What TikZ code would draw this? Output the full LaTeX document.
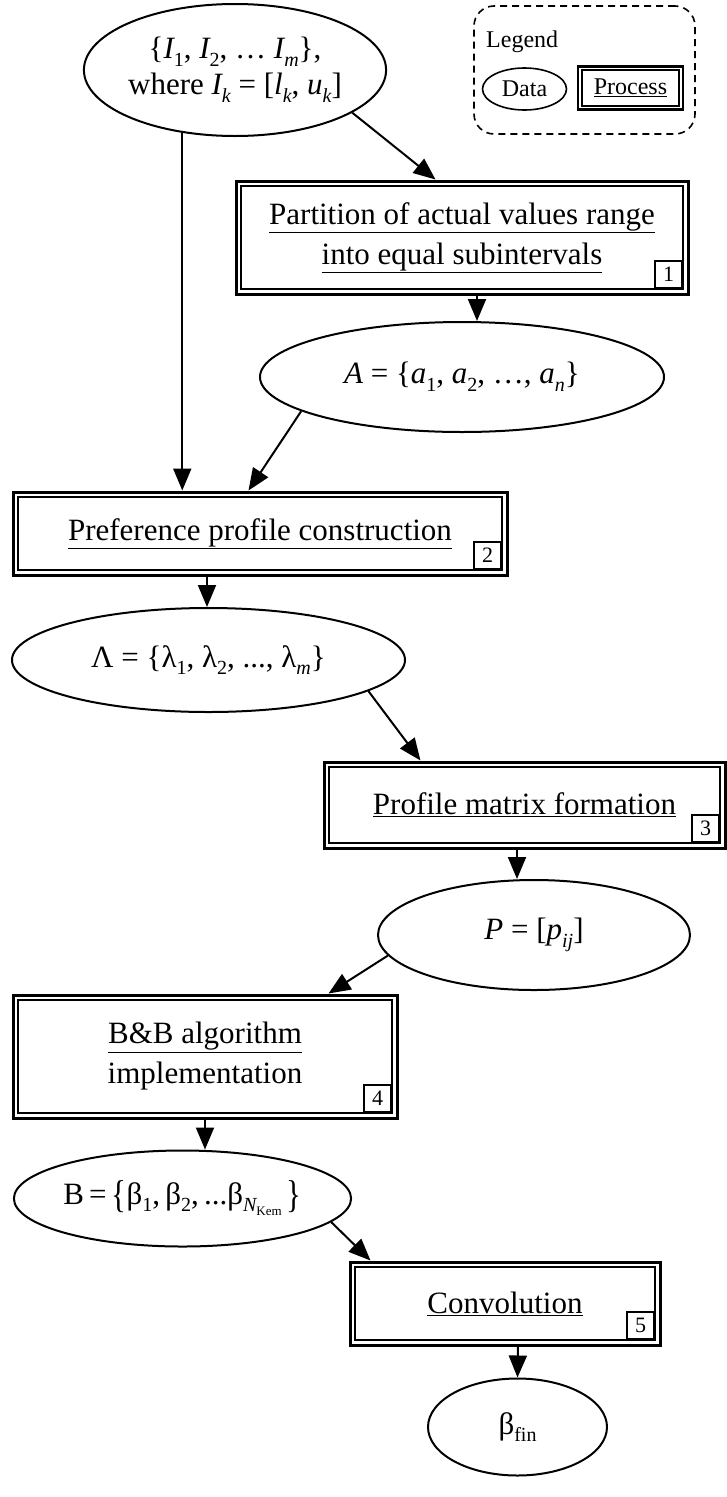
\documentclass[tikz,border=0pt]{standalone}
\usepackage{fontspec}
\setmainfont{Liberation Serif}
\usetikzlibrary{shapes.geometric,arrows.meta,calc}
\newcommand\msz{\fontsize{31}{40}\selectfont}
\newcommand\lsz{\fontsize{24}{28}\selectfont}
\newcommand\sbs[1]{\raisebox{-0.25em}{\fontsize{20}{20}\selectfont #1}}
\newcommand\ssbs[1]{\raisebox{-0.2em}{\fontsize{13}{13}\selectfont #1}}
\newcommand\tallbr[1]{\raisebox{-0.12em}{\scalebox{1}[1.25]{#1}}}
\newcommand\procin[2]{%
  \draw[line width=2pt] ([shift={(6.5pt,-6.5pt)}]#1.north west) rectangle ([shift={(-6.5pt,6.5pt)}]#1.south east);
  \node[numbox, anchor=south east] (#1num) at ([shift={(-6.5pt,6.5pt)}]#1.south east) {#2};
}
\begin{document}
\begin{tikzpicture}[x=1pt,y=-1pt,
  proc/.style={draw, line width=3pt, rectangle, inner sep=0pt, align=center, font=\msz},
  data/.style={draw, ellipse, line width=2pt, inner sep=0pt, align=center, font=\msz},
  arr/.style={line width=2pt, -{Triangle[length=22pt,width=18pt]}},
  numbox/.style={draw, line width=1.8pt, minimum size=27pt, inner sep=0pt, font=\fontsize{22}{22}\selectfont},
]
\useasboundingbox (0,0) rectangle (727,1497);

% Legend
\node[draw, dash pattern=on 7pt off 5pt, rounded corners=20pt, line width=1.6pt, minimum width=221pt, minimum height=128pt] (leg) at (584.5,70) {};
\node[font=\lsz, anchor=west, inner sep=0pt] (legt) at (486,42) {Legend};
\node[draw, ellipse, line width=1.6pt, minimum width=84pt, minimum height=42pt, inner sep=0pt, font=\lsz] (legd) at (524.5,89) {Data};
\node[draw, line width=2.5pt, minimum width=105pt, minimum height=43pt, inner sep=0pt, font=\lsz] (legp) at (630.5,88) {\underline{Process}};
\draw[line width=1.6pt] ([shift={(5pt,-5pt)}]legp.north west) rectangle ([shift={(-5pt,5pt)}]legp.south east);

% Data nodes
\node[data, minimum width=240pt, minimum height=132pt] (I) at (235,70)
  {\{{\itshape I}\sbs{1}, {\itshape I}\sbs{2}, \ldots\ {\itshape I}\sbs{\itshape m}\},\\[-4pt]
   where {\itshape I}\sbs{\itshape k} = [{\itshape l}\sbs{\itshape k}, {\itshape u}\sbs{\itshape k}]};
\node[data, minimum width=404pt, minimum height=110pt] (A) at (462,377)
  {{\itshape A} = \{{\itshape a}\sbs{1}, {\itshape a}\sbs{2}, \ldots, {\itshape a}\sbs{\itshape n}\}};
\node[data, minimum width=393pt, minimum height=104pt] (L) at (208.5,660)
  {Λ = \{λ\sbs{1}, λ\sbs{2}, ..., λ\sbs{\itshape m}\}};
\node[data, minimum width=312pt, minimum height=110pt] (P) at (534,935)
  {{\itshape P} = [{\itshape p}\sbs{\itshape ij}]};
\node[data, minimum width=335pt, minimum height=96pt] (B) at (182.5,1198.5)
  {B\,=\,\tallbr{\{}β\sbs{1},\,β\sbs{2},\,...β\sbs{{\itshape N}\ssbs{Kem}}\,\tallbr{\}}};
\node[data, minimum width=179pt, minimum height=97pt] (F) at (517.5,1427)
  {β\sbs{fin}};

% Process nodes
\node[proc, minimum width=452pt, minimum height=113pt] (b1) at (462,237.5)
  {\rule{0pt}{12pt}\underline{Partition of actual values range}\\\underline{into equal subintervals}};
\procin{b1}{1}
\node[proc, minimum width=494pt, minimum height=83pt] (b2) at (260,533.5)
  {\underline{Preference profile construction}};
\procin{b2}{2}
\node[proc, minimum width=401pt, minimum height=86pt] (b3) at (524.5,805)
  {\underline{Profile matrix formation}};
\procin{b3}{3}
\node[proc, minimum width=384pt, minimum height=123pt] (b4) at (205,1056.5)
  {\underline{B\&B algorithm}\\implementation};
\procin{b4}{4}
\node[proc, minimum width=310pt, minimum height=83pt] (b5) at (505,1303.5)
  {\underline{Convolution}};
\procin{b5}{5}

% Connectors
\draw[arr] (I.-20) -- ([xshift=201pt]b1.north west);
\draw[arr] (I.230) -- (I.230 |- b2.north);
\draw[arr] ([xshift=15pt]b1.south) -- ([xshift=15pt]b1.south |- A.north);
\draw[arr] (A.192) -- ([xshift=237pt]b2.north west);
\draw[arr] ([xshift=-53pt]b2.south) -- ([xshift=-53pt]b2.south |- L.north);
\draw[arr] (L.-11) -- ([xshift=98pt]b3.north west);
\draw[arr] ([xshift=-7.5pt]b3.south) -- ([xshift=-7.5pt]b3.south |- P.north);
\draw[arr] (P.188) -- ([xshift=317pt]b4.north west);
\draw[arr] (b4.south) -- (b4.south |- B.north);
\draw[arr] (B.-9) -- ([xshift=22pt]b5.north west);
\draw[arr] ([xshift=13pt]b5.south) -- (F.north);
\end{tikzpicture}
\end{document}
